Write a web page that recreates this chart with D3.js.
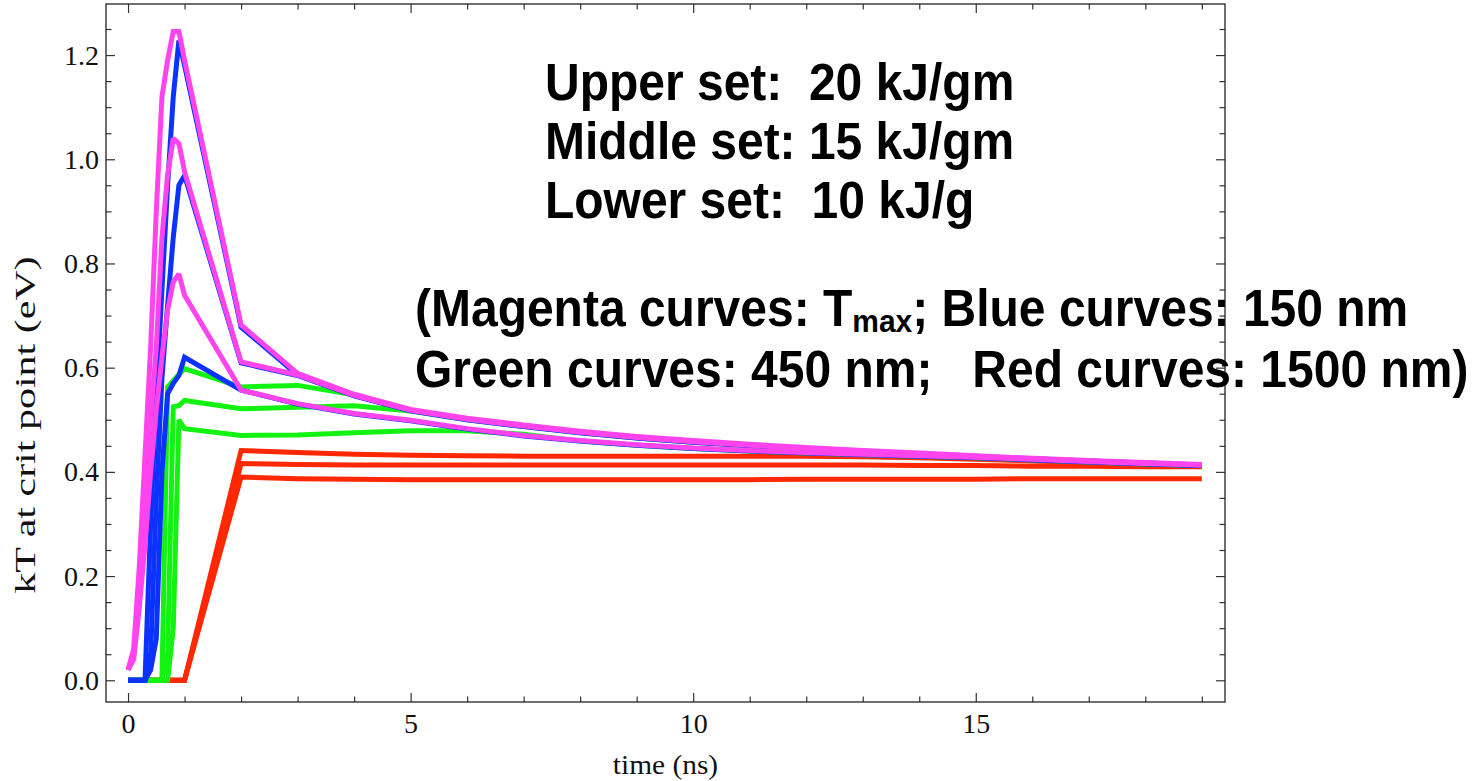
<!DOCTYPE html>
<html>
<head>
<meta charset="utf-8">
<script src="https://cdn.jsdelivr.net/npm/d3@7"></script>
<style>
  body { margin: 0; background: #fff; }
  svg { display: block; }
  .tick text { font-family: "Liberation Serif", "Times New Roman", serif; font-size: 28px; fill: #111; }
  .tick line { stroke: #333; stroke-width: 1.2; }
  .domain { display: none; }
</style>
</head>
<body>
<div id="chart"></div>
<script>
// time grid (ns): fine steps up to 1 ns, then 1 ns steps
var tEarly = [0, 0.1, 0.2, 0.3, 0.4, 0.5, 0.6, 0.7, 0.8, 0.9, 1.0];
var tLate = [2, 3, 4, 5, 6, 7, 8, 9, 10, 11, 12, 13, 14, 15, 16, 17, 18, 19];
var times = tEarly.concat(tLate);

// Tmax (magenta)
var magentaUpper  = [0.02, 0.06, 0.22, 0.43, 0.64, 0.90, 1.12, 1.19, 1.245, 1.245, 1.19,
  0.682, 0.589, 0.549, 0.520, 0.503, 0.490, 0.478, 0.468, 0.460, 0.453, 0.447, 0.441, 0.436, 0.431, 0.426, 0.422, 0.418, 0.414];
var magentaMiddle = [0.02, 0.05, 0.18, 0.35, 0.50, 0.64, 0.85, 0.97, 1.04, 1.03, 0.976,
  0.611, 0.586, 0.547, 0.518, 0.501, 0.488, 0.476, 0.466, 0.458, 0.451, 0.445, 0.439, 0.434, 0.429, 0.425, 0.421, 0.417, 0.413];
var magentaLower  = [0.02, 0.04, 0.14, 0.26, 0.40, 0.52, 0.62, 0.71, 0.765, 0.78, 0.739,
  0.557, 0.531, 0.512, 0.499, 0.483, 0.470, 0.460, 0.452, 0.446, 0.441, 0.437, 0.434, 0.431, 0.428, 0.424, 0.420, 0.416, 0.413];

// 150 nm (blue)
var blueUpper  = [0, 0, 0, 0, 0.30, 0.55, 0.75, 0.95, 1.12, 1.228, 1.18,
  0.678, 0.586, 0.547, 0.518, 0.501, 0.488, 0.476, 0.466, 0.458, 0.451, 0.445, 0.440, 0.435, 0.430, 0.425, 0.421, 0.417, 0.413];
var blueMiddle = [0, 0, 0, 0, 0.05, 0.35, 0.58, 0.72, 0.85, 0.95, 0.969,
  0.609, 0.585, 0.546, 0.517, 0.500, 0.487, 0.475, 0.465, 0.457, 0.450, 0.444, 0.438, 0.433, 0.428, 0.424, 0.420, 0.416, 0.412];
var blueLower  = [0, 0, 0, 0, 0.02, 0.08, 0.40, 0.55, 0.57, 0.585, 0.62,
  0.557, 0.530, 0.511, 0.498, 0.482, 0.469, 0.459, 0.451, 0.445, 0.440, 0.436, 0.433, 0.430, 0.427, 0.423, 0.419, 0.415, 0.412];

// 450 nm (green)
var greenUpper  = [0, 0, 0, 0, 0, 0, 0, 0.563, 0.575, 0.587, 0.598,
  0.563, 0.566, 0.548, 0.518, 0.501, 0.488, 0.476, 0.466, 0.458, 0.451, 0.445, 0.439, 0.434, 0.429, 0.425, 0.421, 0.417, 0.413];
var greenMiddle = [0, 0, 0, 0, 0, 0, 0, 0.05, 0.525, 0.527, 0.537,
  0.521, 0.524, 0.527, 0.517, 0.500, 0.487, 0.475, 0.465, 0.457, 0.450, 0.444, 0.438, 0.433, 0.428, 0.424, 0.420, 0.416, 0.412];
var greenLower  = [0, 0, 0, 0, 0, 0, 0, 0, 0.10, 0.50, 0.483,
  0.470, 0.471, 0.475, 0.479, 0.479, 0.472, 0.459, 0.451, 0.445, 0.440, 0.436, 0.433, 0.430, 0.427, 0.423, 0.419, 0.415, 0.412];

// 1500 nm (red)
var redUpper  = [0, 0, 0, 0, 0, 0, 0, 0, 0, 0, 0,
  0.441, 0.437, 0.434, 0.432, 0.431, 0.430, 0.430, 0.430, 0.430, 0.430, 0.430, 0.429, 0.427, 0.424, 0.421, 0.418, 0.415, 0.412];
var redMiddle = [0, 0, 0, 0, 0, 0, 0, 0, 0, 0, 0,
  0.416, 0.414, 0.413, 0.413, 0.413, 0.413, 0.413, 0.413, 0.413, 0.413, 0.413, 0.413, 0.412, 0.412, 0.411, 0.411, 0.410, 0.410];
var redLower  = [0, 0, 0, 0, 0, 0, 0, 0, 0, 0, 0,
  0.390, 0.387, 0.386, 0.385, 0.385, 0.385, 0.385, 0.385, 0.385, 0.385, 0.386, 0.386, 0.386, 0.386, 0.387, 0.387, 0.387, 0.387];

var xMajor = [0, 5, 10, 15];
var yMajor = [0, 0.2, 0.4, 0.6, 0.8, 1.0, 1.2];

var colors = { magenta: "#ff44ee", blue: "#0b32ff", green: "#12f312", red: "#ff2800" };

// drawing order: red under green under blue under magenta
var series = [
  { c: colors.red, v: redUpper }, { c: colors.red, v: redMiddle }, { c: colors.red, v: redLower },
  { c: colors.green, v: greenLower }, { c: colors.green, v: greenMiddle }, { c: colors.green, v: greenUpper },
  { c: colors.blue, v: blueLower }, { c: colors.blue, v: blueMiddle }, { c: colors.blue, v: blueUpper },
  { c: colors.magenta, v: magentaLower }, { c: colors.magenta, v: magentaMiddle }, { c: colors.magenta, v: magentaUpper }
];

var W = 1476, H = 781;
var frame = { left: 106, right: 1225, top: 4, bottom: 702 };

var svg = d3.select("#chart").append("svg")
  .attr("width", W).attr("height", H)
  .attr("xmlns", "http://www.w3.org/2000/svg");

var x = d3.scaleLinear().domain([-0.39, 19.41]).range([frame.left, frame.right]);
var y = d3.scaleLinear().domain([-0.0417, 1.298]).range([frame.bottom, frame.top]);

var xMinor = d3.range(0, 20, 1).filter(function(d) { return d % 5 !== 0; });
var yMinor = d3.range(0, 1.3, 0.05).filter(function(d) { return Math.abs(d / 0.2 - Math.round(d / 0.2)) > 1e-6; });

// curves
var line = d3.line()
  .x(function(d, i) { return x(times[i]); })
  .y(function(d) { return y(d); });

var plot = svg.append("g").attr("class", "curves");
plot.selectAll("path").data(series).enter().append("path")
  .attr("d", function(s) { return line(s.v); })
  .attr("fill", "none")
  .attr("stroke", function(s) { return s.c; })
  .attr("stroke-width", 5)
  .attr("stroke-linejoin", "miter")
  .attr("stroke-miterlimit", 2);

// frame ticks (inward)
function axisGroup(axis, tx, ty) {
  return svg.append("g").attr("transform", "translate(" + tx + "," + ty + ")").call(axis);
}
axisGroup(d3.axisBottom(x).tickValues(xMajor).tickSize(-9).tickPadding(11).tickFormat(d3.format("d")), 0, frame.bottom);
axisGroup(d3.axisBottom(x).tickValues(xMinor).tickSize(-5.5).tickFormat(""), 0, frame.bottom);
axisGroup(d3.axisTop(x).tickValues(xMajor).tickSize(-9).tickFormat(""), 0, frame.top);
axisGroup(d3.axisTop(x).tickValues(xMinor).tickSize(-5.5).tickFormat(""), 0, frame.top);
axisGroup(d3.axisLeft(y).tickValues(yMajor).tickSize(-9).tickPadding(7).tickFormat(d3.format(".1f")), frame.left, 0);
axisGroup(d3.axisLeft(y).tickValues(yMinor).tickSize(-5.5).tickFormat(""), frame.left, 0);
axisGroup(d3.axisRight(y).tickValues(yMajor).tickSize(-9).tickFormat(""), frame.right, 0);
axisGroup(d3.axisRight(y).tickValues(yMinor).tickSize(-5.5).tickFormat(""), frame.right, 0);

svg.append("rect")
  .attr("x", frame.left).attr("y", frame.top)
  .attr("width", frame.right - frame.left).attr("height", frame.bottom - frame.top)
  .attr("fill", "none").attr("stroke", "#222").attr("stroke-width", 1.3);

// axis labels
var serif = "'Liberation Serif', 'Times New Roman', serif";
svg.append("text")
  .attr("transform", "translate(" + ((frame.left + frame.right) / 2) + ",774) scale(1.05,1)")
  .attr("text-anchor", "middle")
  .style("font-family", serif).style("font-size", "28px").style("fill", "#111")
  .text("time (ns)");
svg.append("text")
  .attr("transform", "translate(35,425) rotate(-90) scale(1.5,1.05)")
  .attr("text-anchor", "middle")
  .style("font-family", serif).style("font-size", "28px").style("fill", "#111")
  .text("kT at crit point (eV)");

// annotation (text looks slightly tall in the original, so stretch vertically)
var note = svg.append("g")
  .style("font-family", "'Liberation Sans', Arial, sans-serif")
  .style("font-weight", "bold").style("font-size", "48px").style("fill", "#000");

function noteLine(tx, ty) {
  return note.append("text").attr("transform", "translate(" + tx + "," + ty + ") scale(1,1.07)");
}
var sp = "\u00a0";
noteLine(545, 100).text("Upper set:" + sp + sp + "20 kJ/gm");
noteLine(545, 159).text("Middle set: 15 kJ/gm");
noteLine(545, 218).text("Lower set:" + sp + sp + "10 kJ/g");

var l1 = noteLine(415, 326);
l1.append("tspan").text("(Magenta curves: T");
l1.append("tspan").attr("dy", 6).style("font-size", "30px").text("max");
l1.append("tspan").attr("dy", -6).text("; Blue curves: 150 nm");
noteLine(415, 387).text("Green curves: 450 nm;" + sp + sp + sp + "Red curves: 1500 nm)");
</script>
</body>
</html>
